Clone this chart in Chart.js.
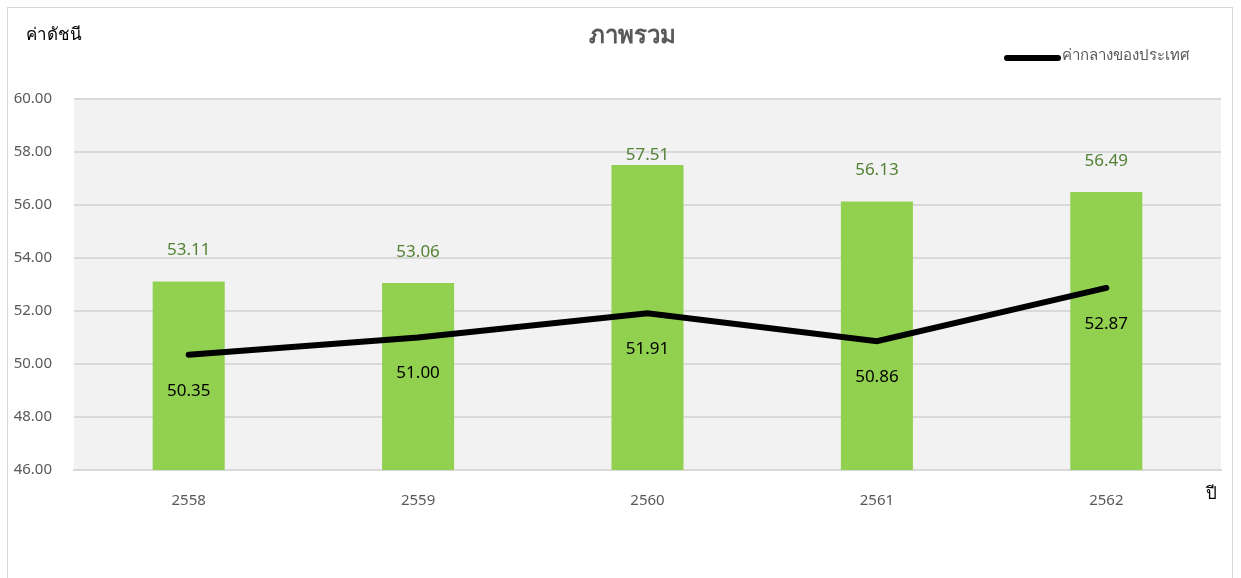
<!DOCTYPE html>
<html>
<head>
<meta charset="utf-8">
<script src="https://cdn.jsdelivr.net/npm/chart.js@4.4.1/dist/chart.umd.min.js"></script>
<style>
  body { margin: 0; background: #fff; }
  #wrap { position: absolute; left: 0; top: 0; width: 1241px; height: 578px; }
  #frame { position: absolute; left: 7px; top: 7px; width: 1226px; height: 600px; border: 1px solid #d9d9d9; box-sizing: border-box; }
  canvas { position: absolute; left: 0; top: 0; }
</style>
</head>
<body>
<div id="wrap">
  <div id="frame"></div>
  <canvas id="chart" width="1241" height="578"></canvas>
</div>
<script>
const FONT = "'Noto Sans', 'Open Sans', sans-serif";

const years = ["2558", "2559", "2560", "2561", "2562"];
const overallValues = [53.11, 53.06, 57.51, 56.13, 56.49];
const nationalValues = [50.35, 51.0, 51.91, 50.86, 52.87];
const yTicks = [46, 48, 50, 52, 54, 56, 58, 60];

const chartTitle = "ภาพรวม";
const yAxisLabel = "ค่าดัชนี";
const xAxisLabel = "ปี";
const lineLabel = "ค่ากลางของประเทศ";

const extras = {
  id: "extras",
  beforeDraw(chart) {
    const { ctx, chartArea: a } = chart;
    ctx.save();
    ctx.fillStyle = "#f2f2f2";
    ctx.fillRect(a.left, a.top, a.right - a.left, a.bottom - a.top);
    ctx.restore();
  },
  afterDatasetsDraw(chart) {
    const { ctx, chartArea: a } = chart;
    ctx.save();
    ctx.textAlign = "center";
    ctx.textBaseline = "middle";

    // bar labels
    ctx.font = "17px " + FONT;
    ctx.fillStyle = "#548235";
    chart.getDatasetMeta(0).data.forEach((bar, i) => {
      let y = bar.y - 31;
      if (y < a.top + 56) y = a.top + 56;
      ctx.fillText(overallValues[i].toFixed(2), bar.x, y);
    });

    // line labels
    ctx.fillStyle = "#000";
    chart.getDatasetMeta(1).data.forEach((pt, i) => {
      ctx.fillText(nationalValues[i].toFixed(2), pt.x, pt.y + 36);
    });

    // title
    ctx.fillStyle = "#595959";
    ctx.font = "bold 24px " + FONT;
    ctx.fillText(chartTitle, 632, 36);

    // axis labels
    ctx.fillStyle = "#000";
    ctx.font = "17px " + FONT;
    ctx.textAlign = "left";
    ctx.fillText(yAxisLabel, 26, 35);
    ctx.fillText(xAxisLabel, 1206, 494);

    // legend
    ctx.strokeStyle = "#000";
    ctx.lineWidth = 6;
    ctx.lineCap = "round";
    ctx.beginPath();
    ctx.moveTo(1007, 58);
    ctx.lineTo(1058, 58);
    ctx.stroke();
    ctx.fillStyle = "#595959";
    ctx.font = "15px " + FONT;
    ctx.fillText(lineLabel, 1062, 56);
    ctx.restore();
  }
};

new Chart(document.getElementById("chart"), {
  data: {
    labels: years,
    datasets: [
      {
        type: "bar",
        label: chartTitle,
        data: overallValues,
        backgroundColor: "#92d050",
        categoryPercentage: 1,
        barPercentage: 0.314,
        order: 1,
      },
      {
        type: "line",
        label: lineLabel,
        data: nationalValues,
        borderColor: "#000",
        backgroundColor: "#000",
        borderWidth: 6,
        borderCapStyle: "round",
        pointRadius: 0,
        tension: 0,
        order: 0,
      },
    ],
  },
  options: {
    responsive: false,
    animation: false,
    layout: { padding: { top: 99, right: 20, bottom: 0, left: 0 } },
    plugins: {
      legend: { display: false },
      title: { display: false },
      tooltip: { enabled: false },
    },
    scales: {
      x: {
        grid: { display: false },
        border: { display: true, color: "#d9d9d9", width: 2 },
        ticks: { color: "#595959", font: { family: FONT, size: 15 }, padding: 14 },
        afterFit(scale) { scale.height = 108; },
      },
      y: {
        min: 46,
        max: 60,
        afterBuildTicks(scale) { scale.ticks = yTicks.map((v) => ({ value: v })); },
        grid: { color: "#d9d9d9", lineWidth: 2, drawTicks: false },
        border: { display: false },
        ticks: {
          color: "#595959",
          font: { family: FONT, size: 15 },
          padding: 22,
          callback: (v) => Number(v).toFixed(2),
        },
        afterFit(scale) { scale.width = 74; },
      },
    },
  },
  plugins: [extras],
});
</script>
</body>
</html>
